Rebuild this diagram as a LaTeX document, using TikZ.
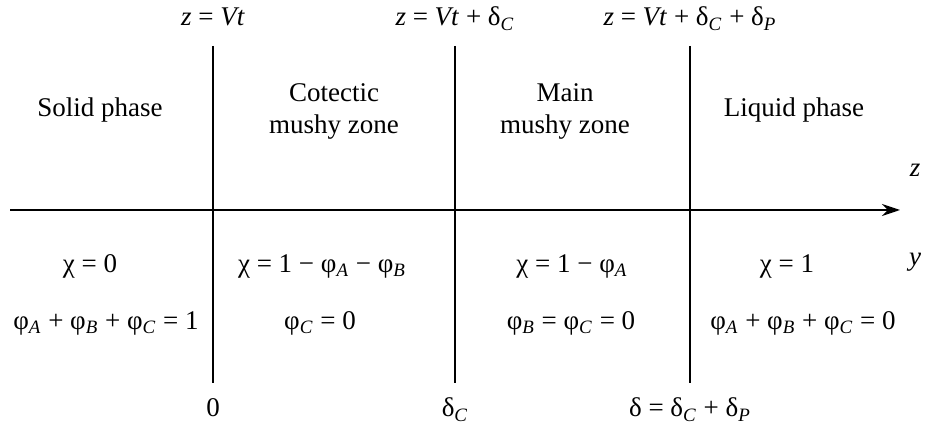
\documentclass[tikz,border=0pt]{standalone}
\usepackage{fontspec}
\setmainfont{Liberation Serif}
\usetikzlibrary{arrows.meta, positioning}
\newcommand{\sbi}[1]{\textsubscript{\textit{#1}}}

\begin{document}
\begin{tikzpicture}[x=0.5pt, y=-0.5pt,
    every node/.style={inner sep=0pt, align=center, font=\fontsize{13.5}{16}\selectfont},
    bnd/.style={line width=1.1pt}]
  \useasboundingbox (0,0) rectangle (925,426);
  % zone boundaries
  \foreach \x [count=\i] in {213,455,690} {
    \coordinate (top\i) at (\x,46);
    \coordinate (bot\i) at (\x,383);
    \draw[bnd] (top\i) -- (bot\i);
  }
  % z axis
  \coordinate (zStart) at (10,210);
  \coordinate (zEnd) at (900,210);
  \draw[bnd, -{Stealth[length=9pt, width=6pt]}] (zStart) -- (zEnd);
  \node (zLbl) at (915,170) {\textit{z}};
  \node (yLbl) at (915,262) {\textit{y}};

  % front positions
  \node[above=10pt of top1, anchor=base] (front1) {\textit{z} = \textit{Vt}};
  \node[above=10pt of top2, anchor=base] (front2) {\textit{z} = \textit{Vt} + δ\sbi{C}};
  \node[above=10pt of top3, anchor=base] (front3) {\textit{z} = \textit{Vt} + δ\sbi{C} + δ\sbi{P}};
  \node[below=17pt of bot1, anchor=base] (pos1) {0};
  \node[below=17pt of bot2, anchor=base] (pos2) {δ\sbi{C}};
  \node[below=17pt of bot3, anchor=base] (pos3) {δ = δ\sbi{C} + δ\sbi{P}};

  % zone names
  \node (solid) at (100,110) {Solid phase};
  \node (cotectic) at (334,111) {Cotectic\\mushy zone};
  \node (main) at (565,111) {Main\\mushy zone};
  \node (liquid) at (794,110) {Liquid phase};

  % conditions
  \node (chiS) at (90,266) {χ = 0};
  \node (phiS) at (106,323) {φ\sbi{A} + φ\sbi{B} + φ\sbi{C} = 1};
  \node (chiC) at (322,266) {χ = 1 − φ\sbi{A} − φ\sbi{B}};
  \node (phiC) at (320,323) {φ\sbi{C} = 0};
  \node (chiM) at (572,266) {χ = 1 − φ\sbi{A}};
  \node (phiM) at (571,323) {φ\sbi{B} = φ\sbi{C} = 0};
  \node (chiL) at (787,266) {χ = 1};
  \node (phiL) at (803,323) {φ\sbi{A} + φ\sbi{B} + φ\sbi{C} = 0};
\end{tikzpicture}
\end{document}
